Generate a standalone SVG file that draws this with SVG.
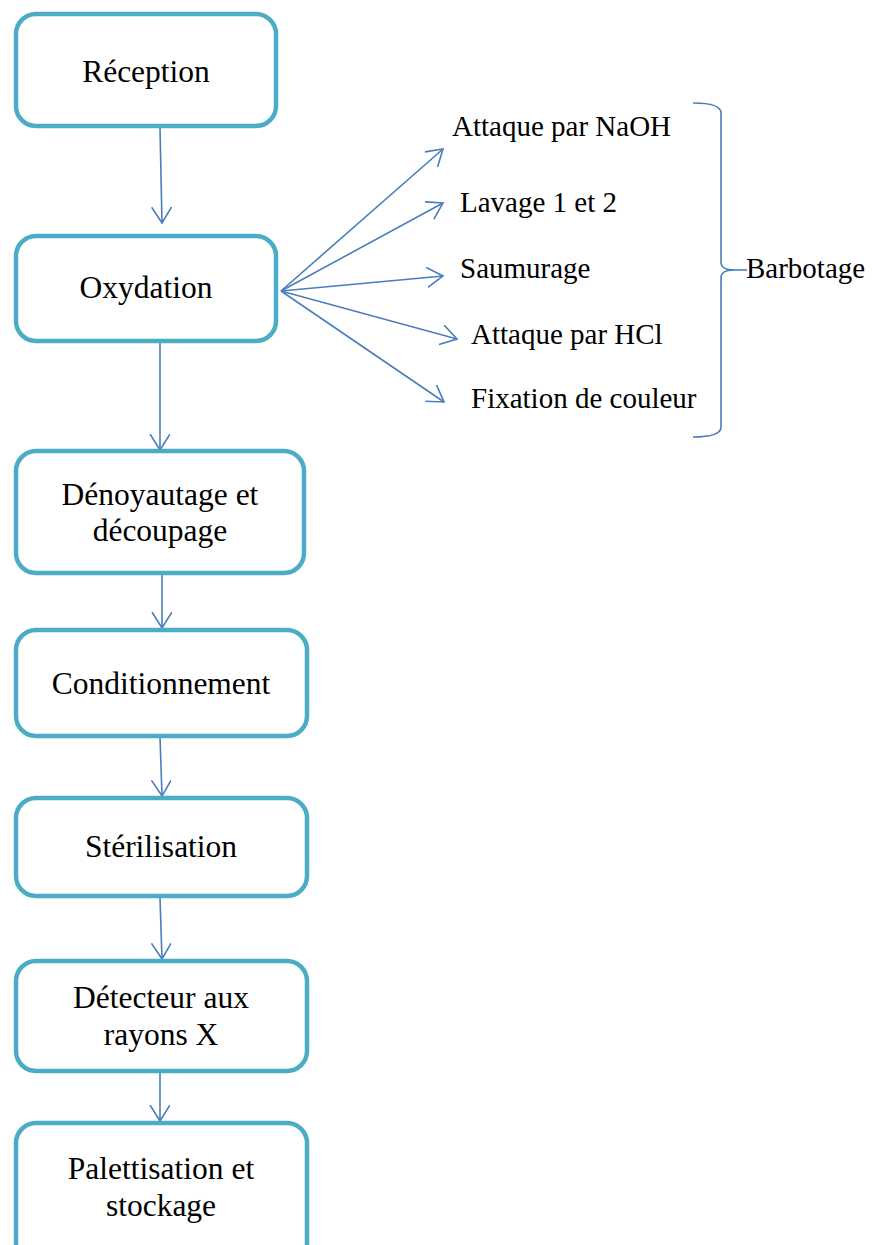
<svg xmlns="http://www.w3.org/2000/svg" width="873" height="1245" viewBox="0 0 873 1245">
<defs>
<style>
.box{fill:#fff;stroke:#4BACC6;stroke-width:4.5}
.t{font-family:"Liberation Serif","Times New Roman",serif;font-size:31.5px;fill:#000;text-anchor:middle}
.l{font-family:"Liberation Serif","Times New Roman",serif;font-size:29px;fill:#000}
.c{fill:none;stroke:#4A7EBB;stroke-width:1.6}
</style>
<marker id="ah" markerUnits="userSpaceOnUse" markerWidth="24" markerHeight="24" refX="16" refY="10" orient="auto">
<path d="M0,0 L16,10 L0,20" fill="none" stroke="#4A7EBB" stroke-width="1.6"/>
</marker>
</defs>
<rect width="873" height="1245" fill="#fff"/>
<g id="connectors">
<line class="c" x1="160" y1="128" x2="162" y2="223" marker-end="url(#ah)"/>
<line class="c" x1="160" y1="343" x2="160" y2="450" marker-end="url(#ah)"/>
<line class="c" x1="162" y1="575" x2="162" y2="628" marker-end="url(#ah)"/>
<line class="c" x1="160" y1="737" x2="162" y2="796" marker-end="url(#ah)"/>
<line class="c" x1="160" y1="898" x2="162" y2="959" marker-end="url(#ah)"/>
<line class="c" x1="160" y1="1072" x2="160" y2="1121" marker-end="url(#ah)"/>
<line class="c" x1="281" y1="291" x2="443" y2="149" marker-end="url(#ah)"/>
<line class="c" x1="281" y1="291" x2="443" y2="203" marker-end="url(#ah)"/>
<line class="c" x1="281" y1="291" x2="443" y2="276" marker-end="url(#ah)"/>
<line class="c" x1="281" y1="291" x2="457" y2="339" marker-end="url(#ah)"/>
<line class="c" x1="281" y1="291" x2="444" y2="402" marker-end="url(#ah)"/>
<path class="c" d="M693,103 Q721,103 721,113 L721,262 Q721,270 734,270 Q721,270 721,278 L721,427 Q721,437 693,437"/>
<line class="c" x1="733" y1="270" x2="747" y2="270"/>
</g>
<g id="reception"><rect class="box" x="16" y="14" width="260" height="112" rx="20"/><text class="t" x="146" y="82">Réception</text></g>
<g id="oxydation"><rect class="box" x="16" y="236" width="260" height="105" rx="20"/><text class="t" x="146" y="298">Oxydation</text></g>
<g id="denoyautage"><rect class="box" x="16" y="451" width="288" height="122" rx="20"/><text class="t" x="160" y="505">Dénoyautage et</text><text class="t" x="160" y="541">découpage</text></g>
<g id="conditionnement"><rect class="box" x="16" y="630" width="291" height="106" rx="20"/><text class="t" x="161" y="694">Conditionnement</text></g>
<g id="sterilisation"><rect class="box" x="16" y="798" width="291" height="98" rx="20"/><text class="t" x="161" y="857">Stérilisation</text></g>
<g id="detecteur"><rect class="box" x="16" y="961" width="291" height="110" rx="20"/><text class="t" x="161" y="1008">Détecteur aux</text><text class="t" x="161" y="1045">rayons X</text></g>
<g id="palettisation"><rect class="box" x="16" y="1123" width="291" height="140" rx="20"/><text class="t" x="161" y="1179">Palettisation et</text><text class="t" x="161" y="1216">stockage</text></g>
<g id="labels">
<text class="l" x="452" y="136">Attaque par NaOH</text>
<text class="l" x="460" y="212">Lavage 1 et 2</text>
<text class="l" x="460" y="278">Saumurage</text>
<text class="l" x="471" y="344">Attaque par HCl</text>
<text class="l" x="471" y="408">Fixation de couleur</text>
<text class="l" x="746" y="278">Barbotage</text>
</g>
</svg>
